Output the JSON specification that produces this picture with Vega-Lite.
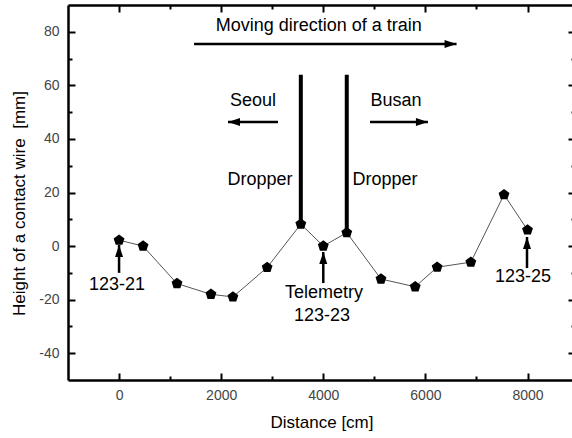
{
  "$schema": "https://vega.github.io/schema/vega-lite/v6.json",
  "width": 507,
  "height": 375,
  "autosize": {"type": "none"},
  "padding": {"left": 68, "top": 5, "right": -3, "bottom": 58},
  "background": "white",
  "config": {"view": {"stroke": null}, "font": "Liberation Sans"},
  "datasets": {
    "points": [
      {"d": 0, "h": 2.2}, {"d": 470, "h": 0}, {"d": 1135, "h": -14}, {"d": 1800, "h": -18},
      {"d": 2230, "h": -19}, {"d": 2900, "h": -8}, {"d": 3560, "h": 8.2}, {"d": 4000, "h": 0},
      {"d": 4460, "h": 5}, {"d": 5130, "h": -12.3}, {"d": 5800, "h": -15.2}, {"d": 6230, "h": -7.9},
      {"d": 6890, "h": -6}, {"d": 7540, "h": 19.2}, {"d": 8000, "h": 6}
    ],
    "droppers": [
      {"d": 3560, "top": 64, "bottom": 8.2},
      {"d": 4460, "top": 64, "bottom": 5}
    ],
    "arrows": [
      {"x": 1469, "y": 75.4, "x2": 6610, "y2": 75.4, "dir": "right"},
      {"x": 3113, "y": 46.3, "x2": 2134, "y2": 46.3, "dir": "left"},
      {"x": 4915, "y": 46.3, "x2": 6050, "y2": 46.3, "dir": "right"},
      {"x": 0, "y": -10, "x2": 0, "y2": 0.4, "dir": "up"},
      {"x": 4000, "y": -13.8, "x2": 4000, "y2": -2.2, "dir": "up"},
      {"x": 7990, "y": -8.2, "x2": 7990, "y2": 3.4, "dir": "up"}
    ],
    "labels": [
      {"x": 3910, "y": 82, "text": "Moving direction of a train"},
      {"x": 2624, "y": 54, "text": "Seoul"},
      {"x": 5424, "y": 54, "text": "Busan"},
      {"x": 2761, "y": 24.7, "text": "Dropper"},
      {"x": 5209, "y": 24.7, "text": "Dropper"},
      {"x": -40, "y": -14.6, "text": "123-21"},
      {"x": 4014, "y": -17.6, "text": "Telemetry"},
      {"x": 3975, "y": -26, "text": "123-23"},
      {"x": 7911, "y": -11.6, "text": "123-25"}
    ]
  },
  "resolve": {"axis": {"x": "independent", "y": "independent"}},
  "layer": [
    {
      "data": {"name": "points"},
      "mark": {"type": "line", "color": "#555555", "strokeWidth": 1},
      "encoding": {
        "x": {"field": "d", "type": "quantitative",
          "scale": {"domain": [-1000, 8930], "nice": false, "zero": false},
          "axis": {"orient": "bottom", "values": [0, 1000, 2000, 3000, 4000, 5000, 6000, 7000, 8000],
            "format": "d", "labelExpr": "datum.value % 2000 === 0 ? datum.label : ''",
            "tickSize": {"condition": {"test": "datum.value % 2000 === 0", "value": -7}, "value": -4},
            "tickWidth": 2, "tickColor": "black", "domainColor": "black", "domainWidth": 2.5, "grid": false,
            "labelFont": "Liberation Sans", "labelFontSize": 14, "labelColor": "#444444", "labelPadding": 15,
            "title": "Distance [cm]", "titleFont": "Liberation Sans", "titleFontSize": 17,
            "titleFontWeight": "normal", "titleColor": "black", "titlePadding": 12}},
        "y": {"field": "h", "type": "quantitative",
          "scale": {"domain": [-50, 90], "nice": false, "zero": false},
          "axis": {"orient": "left", "values": [-40, -30, -20, -10, 0, 10, 20, 30, 40, 50, 60, 70, 80],
            "labelExpr": "datum.value % 20 === 0 ? replace(datum.label, '\u2212', '-') : ''",
            "tickSize": {"condition": {"test": "datum.value % 20 === 0", "value": -7}, "value": -4},
            "tickWidth": 2, "tickColor": "black", "domainColor": "black", "domainWidth": 2.5, "grid": false,
            "labelFont": "Liberation Sans", "labelFontSize": 14, "labelColor": "#444444", "labelPadding": 16,
            "title": "Height of a contact wire\u00a0 [mm]", "titleFont": "Liberation Sans", "titleFontSize": 17,
            "titleFontWeight": "normal", "titleColor": "black", "titlePadding": 10, "titleY": 198}}
      }
    },
    {
      "data": {"name": "points"},
      "mark": {"type": "point", "shape": "M0,-1L0.951,-0.309L0.588,0.809L-0.588,0.809L-0.951,-0.309Z",
        "filled": true, "color": "black", "opacity": 1, "size": 130},
      "encoding": {
        "x": {"field": "d", "type": "quantitative", "scale": {"domain": [-1000, 8930], "nice": false, "zero": false}, "axis": null},
        "y": {"field": "h", "type": "quantitative", "scale": {"domain": [-50, 90], "nice": false, "zero": false}, "axis": null}
      }
    },
    {
      "data": {"name": "droppers"},
      "mark": {"type": "rule", "color": "black", "strokeWidth": 4},
      "encoding": {
        "x": {"field": "d", "type": "quantitative", "scale": {"domain": [-1000, 8930], "nice": false, "zero": false}, "axis": null},
        "y": {"field": "top", "type": "quantitative", "scale": {"domain": [-50, 90], "nice": false, "zero": false}, "axis": null},
        "y2": {"field": "bottom"}
      }
    },
    {
      "data": {"name": "arrows"},
      "mark": {"type": "rule", "color": "black", "strokeWidth": 2.5},
      "encoding": {
        "x": {"field": "x", "type": "quantitative", "scale": {"domain": [-1000, 8930], "nice": false, "zero": false}, "axis": null},
        "y": {"field": "y", "type": "quantitative", "scale": {"domain": [-50, 90], "nice": false, "zero": false}, "axis": null},
        "x2": {"field": "x2"},
        "y2": {"field": "y2"}
      }
    },
    {
      "data": {"name": "arrows"},
      "mark": {"type": "point", "filled": true, "color": "black", "opacity": 1, "size": 100},
      "encoding": {
        "x": {"field": "x2", "type": "quantitative", "scale": {"domain": [-1000, 8930], "nice": false, "zero": false}, "axis": null},
        "y": {"field": "y2", "type": "quantitative", "scale": {"domain": [-50, 90], "nice": false, "zero": false}, "axis": null},
        "shape": {"field": "dir", "type": "nominal", "legend": null,
          "scale": {"domain": ["right", "left", "up"],
            "range": ["M0,0L-2.4,-0.8L-2.4,0.8Z", "M0,0L2.4,-0.8L2.4,0.8Z", "M0,0L-0.8,2.4L0.8,2.4Z"]}}
      }
    },
    {
      "data": {"name": "labels"},
      "mark": {"type": "text", "font": "Liberation Sans", "fontSize": 18, "color": "black", "align": "center", "baseline": "middle"},
      "encoding": {
        "x": {"field": "x", "type": "quantitative", "scale": {"domain": [-1000, 8930], "nice": false, "zero": false}, "axis": null},
        "y": {"field": "y", "type": "quantitative", "scale": {"domain": [-50, 90], "nice": false, "zero": false}, "axis": null},
        "text": {"field": "text", "type": "nominal"}
      }
    },
    {
      "data": {"name": "points"},
      "mark": {"type": "point", "opacity": 0},
      "encoding": {
        "x": {"field": "d", "type": "quantitative",
          "scale": {"domain": [-1000, 8930], "nice": false, "zero": false},
          "axis": {"orient": "top", "values": [0, 1000, 2000, 3000, 4000, 5000, 6000, 7000, 8000],
            "labels": false, "title": null,
            "tickSize": {"condition": {"test": "datum.value % 2000 === 0", "value": -7}, "value": -4},
            "tickWidth": 2, "tickColor": "black", "domainColor": "black", "domainWidth": 2.5, "grid": false}},
        "y": {"field": "h", "type": "quantitative",
          "scale": {"domain": [-50, 90], "nice": false, "zero": false},
          "axis": {"orient": "right", "values": [-40, -30, -20, -10, 0, 10, 20, 30, 40, 50, 60, 70, 80],
            "labels": false, "title": null,
            "tickSize": {"condition": {"test": "datum.value % 20 === 0", "value": -7}, "value": -4},
            "tickWidth": 2, "tickColor": "black", "domainColor": "black", "domainWidth": 2.5, "grid": false}}
      }
    }
  ]
}
